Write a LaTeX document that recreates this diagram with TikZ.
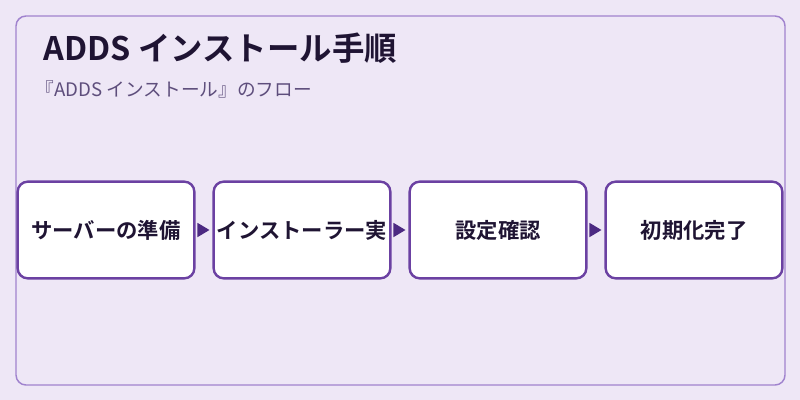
\documentclass[tikz,border=0pt]{standalone}
\usepackage{fontspec}
\setmainfont{Noto Sans CJK JP}[BoldFont={Noto Sans CJK JP Bold}]
\usetikzlibrary{arrows.meta}
\tikzset{
	stepbox/.style={draw=boxColor, line width=1.8pt, fill=white, rounded corners=7.5pt,
		minimum width=132.5pt, minimum height=72.5pt, inner sep=0pt,
		font=\fontsize{16pt}{18pt}\selectfont\bfseries, text=txtColor},
	flow/.style={draw=arrColor, fill=arrColor, line width=1pt, shorten <=2.25pt, shorten >=2.25pt,
		-{Triangle[length=9pt, width=10.5pt]}}
}
\definecolor{bgColor}{HTML}{EEE7F6}
\definecolor{panelColor}{HTML}{A083CE}
\definecolor{boxColor}{HTML}{6B41A2}
\definecolor{arrColor}{HTML}{4C2A82}
\definecolor{txtColor}{HTML}{1F1433}
\definecolor{subColor}{HTML}{5E4E7C}
\begin{document}
\begin{tikzpicture}[x=0.75pt, y=-0.75pt]
				\fill[bgColor] (0,0) rectangle (800,400);
				\useasboundingbox (0,0) rectangle (800,400);
				\draw[panelColor, line width=1.1pt, rounded corners=7.5pt] (16,16) rectangle (785,385);
				\node[anchor=base west, text=txtColor, font=\fontsize{24.3pt}{28pt}\selectfont\bfseries] (title) at (39,60) {ADDS インストール手順};
				\node[anchor=base west, text=subColor, font=\fontsize{14pt}{16pt}\selectfont] (sub) at (31,96) {『ADDS インストール』のフロー};
				\node[stepbox] (prep) at (106, 230) {サーバーの準備};
				\node[stepbox] (inst) at (302, 230) {インストーラー実};
				\node[stepbox] (conf) at (498, 230) {設定確認};
				\node[stepbox] (done) at (694, 230) {初期化完了};
				\path (prep) edge[flow] (inst);
				\path (inst) edge[flow] (conf);
				\path (conf) edge[flow] (done);
			\end{tikzpicture}
\end{document}
